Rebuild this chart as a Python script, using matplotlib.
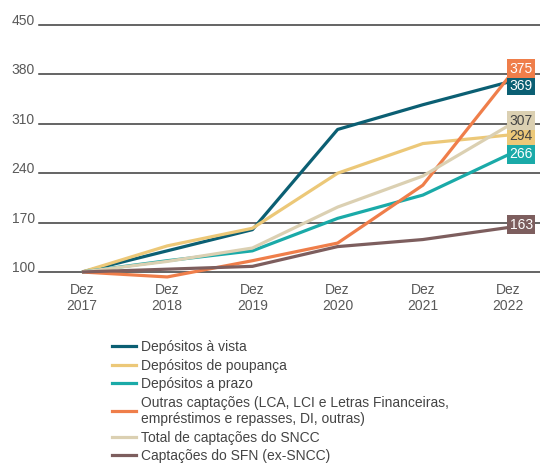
import matplotlib
matplotlib.use("Agg")
import matplotlib.pyplot as plt

plt.rcParams['font.family'] = ['Liberation Sans', 'DejaVu Sans']

years = ["Dez\n2017", "Dez\n2018", "Dez\n2019", "Dez\n2020", "Dez\n2021", "Dez\n2022"]
vista = [100, 130, 160, 302, 337, 369]
poupanca = [100, 137, 162, 240, 282, 294]
prazo = [100, 116, 130, 176, 209, 266]
outras = [100, 93, 116, 141, 223, 375]
total_sncc = [100, 115, 134, 192, 236, 307]
sfn = [100, 104, 108, 136, 146, 163]

names = ["Depósitos à vista", "Depósitos de poupança", "Depósitos a prazo",
         "Outras captações (LCA, LCI e Letras Financeiras,\nempréstimos e repasses, DI, outras)",
         "Total de captações do SNCC", "Captações do SFN (ex-SNCC)"]
colors = ["#0b5f73", "#ecc878", "#1aaaa8", "#ef7e4a", "#dbd0b2", "#7d5e5e"]
label_text_colors = ["white", "#444444", "white", "white", "#444444", "white"]
label_pos = [363.6, 292.7, 267.2, 387.7, 314.4, 166.6]
yticks = [100, 170, 240, 310, 380, 450]

series = [vista, poupanca, prazo, outras, total_sncc, sfn]

fig = plt.figure(figsize=(5.4, 4.63), dpi=100)
ax = fig.add_axes([39/540, 1 - 272/463, 1 - 39/540, (272 - 25)/463])

x = list(range(len(years)))
for yv in yticks:
    ax.axhline(yv, color="#3a3a3a", lw=1.1, zorder=1, clip_on=False)

for s, c in zip(series, colors):
    ax.plot(x, s, color=c, lw=2.3, solid_capstyle='butt', zorder=3, clip_on=False)

# end labels
for s, c, tc, lp in zip(series, colors, label_text_colors, label_pos):
    ax.text(5.0 + 0.155, lp, f"{s[-1]}", ha="center", va="center", fontsize=10, color=tc,
            bbox=dict(boxstyle="square,pad=0.18", fc=c, ec="none"), zorder=5, clip_on=False)

ax.set_xlim(-0.505, 5.375)
ax.set_ylim(100, 450)
ax.set_yticks(yticks)
ax.set_xticks(x)
ax.set_xticklabels(years)
ax.tick_params(axis='both', length=0, labelsize=10, colors="#595959")
ax.tick_params(axis='x', pad=8)
ax.tick_params(axis='y', pad=3)
for lab in ax.get_yticklabels():
    lab.set_verticalalignment('baseline')
for sp in ax.spines.values():
    sp.set_visible(False)

handles = [plt.Line2D([], [], color=c, lw=2.3) for c in colors]
leg = fig.legend(handles, names, loc="upper left", bbox_to_anchor=(112/540, 1 - 340/463),
                 frameon=False, fontsize=10, handlelength=1.7, handletextpad=0.4,
                 labelspacing=0.33, labelcolor="#444444", borderaxespad=0, borderpad=0)

fig.savefig("out.png", dpi=100)
